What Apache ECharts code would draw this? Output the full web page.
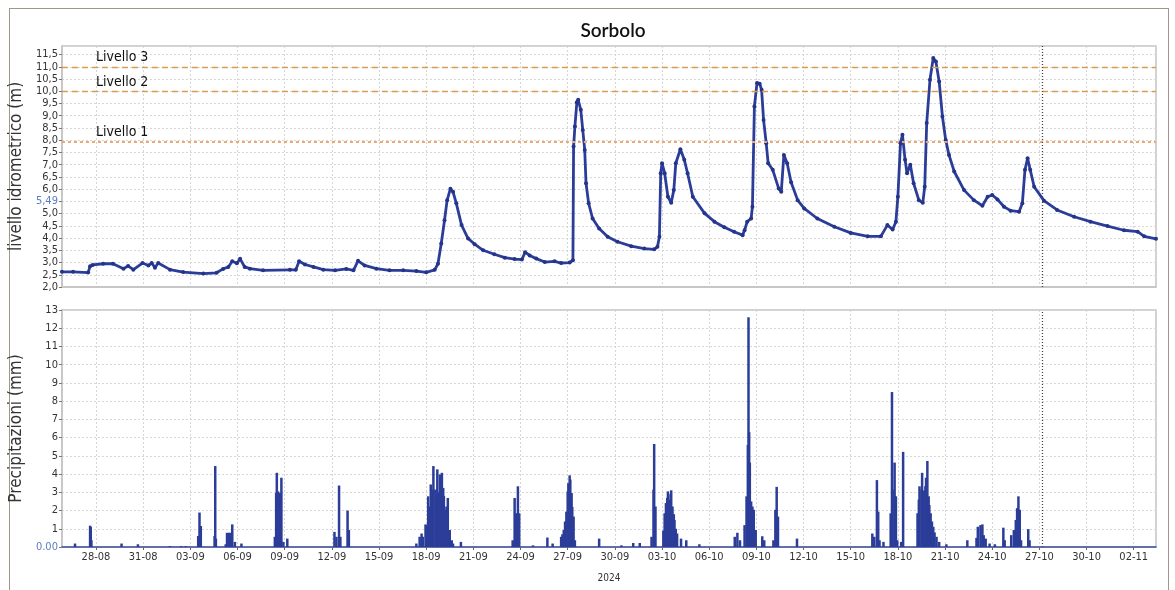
<!DOCTYPE html>
<html>
<head>
<meta charset="utf-8">
<script src="https://cdn.jsdelivr.net/npm/echarts@6/dist/echarts.min.js"></script>
<style>
  html, body { margin: 0; padding: 0; background: #fff; }
  #frame { position: absolute; left: 9px; top: 8px; width: 1160px; height: 700px; border: 1.5px solid #a1968b; border-bottom: none; box-sizing: border-box; }
  #chart { position: absolute; left: 0; top: 0; width: 1175px; height: 590px; }
</style>
</head>
<body>
<div id="frame"></div>
<div id="chart"></div>
<script>
// Hours are counted from 2024-08-28 00:00
const xStart = -52;
const xEnd = 1618;
const tickLabels = ['28-08','31-08','03-09','06-09','09-09','12-09','15-09','18-09','21-09','24-09','27-09','30-09','03-10','06-10','09-10','12-10','15-10','18-10','21-10','24-10','27-10','30-10','02-11'];
const tickHours = tickLabels.map((_, i) => i * 72);
const yearLabel = '2024';
const nowHour = 1445;
const currentLevel = 5.49;

const thresholds = [11.0, 10.0, 7.95];
const thresholdNames = ['Livello 3', 'Livello 2', 'Livello 1'];

// Water level (m)
const levelHours = [-52,-35,-12,-9,-5,11,26,42,49,57,71,80,85,90,95,113,133,164,184,194,202,208,215,220,227,235,255,296,305,310,319,332,347,365,382,393,400,410,428,448,469,489,504,517,522,527,532,536,541,545,550,558,568,578,591,608,624,639,650,655,662,672,685,700,710,723,728,729,731,734,736,740,743,746,748,752,758,768,781,796,817,837,852,857,860,862,864,868,873,878,882,885,892,898,903,911,929,944,959,974,987,990,994,1000,1002,1005,1009,1013,1016,1019,1023,1026,1033,1042,1046,1050,1055,1061,1071,1081,1101,1127,1152,1178,1198,1208,1216,1221,1224,1228,1231,1235,1238,1243,1248,1256,1262,1265,1268,1273,1278,1282,1287,1292,1297,1302,1310,1325,1340,1353,1361,1368,1376,1386,1396,1409,1414,1418,1422,1426,1432,1447,1467,1493,1518,1544,1569,1590,1600,1618];
const levelValues = [2.62,2.62,2.59,2.85,2.90,2.95,2.95,2.75,2.86,2.71,2.98,2.88,2.98,2.79,2.98,2.71,2.61,2.55,2.58,2.74,2.82,3.05,2.97,3.15,2.82,2.75,2.68,2.70,2.70,3.05,2.92,2.82,2.71,2.68,2.74,2.68,3.07,2.88,2.75,2.68,2.68,2.65,2.60,2.70,2.95,3.78,4.73,5.55,6.02,5.89,5.42,4.53,3.98,3.75,3.50,3.34,3.20,3.14,3.12,3.42,3.29,3.16,3.02,3.05,2.98,3.00,3.09,7.74,8.56,9.55,9.65,9.24,8.42,7.60,6.24,5.42,4.80,4.39,4.05,3.85,3.67,3.57,3.54,3.64,4.05,6.65,7.06,6.65,5.69,5.44,5.96,7.06,7.63,7.20,6.65,5.69,5.01,4.67,4.44,4.26,4.12,4.32,4.67,4.80,5.28,9.38,10.34,10.31,10.06,8.83,7.88,7.06,6.79,6.03,5.89,7.40,7.06,6.28,5.55,5.21,4.80,4.46,4.21,4.07,4.07,4.53,4.35,4.67,5.69,7.88,8.22,7.20,6.65,7.00,6.24,5.55,5.44,6.10,8.70,10.47,11.36,11.22,10.40,8.97,8.01,7.40,6.72,5.96,5.55,5.32,5.69,5.76,5.58,5.28,5.12,5.08,5.42,6.79,7.26,6.79,6.10,5.53,5.15,4.87,4.67,4.49,4.32,4.26,4.07,3.97];

// Precipitation (mm)
const rainHours = [-32,-9,-8,-7,39,64,113,130,137,156,158,160,181,182,183,198,200,203,205,208,212,222,273,275,276,278,281,283,286,292,364,367,371,373,384,386,489,494,497,499,503,505,507,509,511,513,515,518,520,521,523,525,526,528,530,531,533,535,537,540,543,545,557,636,639,641,644,646,667,689,697,710,712,714,716,718,720,721,723,724,726,727,729,731,768,802,820,830,848,851,852,854,866,868,870,872,873,875,877,878,880,882,883,885,887,893,901,921,975,979,983,990,993,995,996,997,998,1000,1002,1004,1007,1017,1020,1034,1037,1039,1041,1070,1185,1188,1192,1194,1196,1202,1213,1215,1216,1219,1221,1223,1229,1232,1254,1256,1257,1260,1261,1263,1264,1266,1267,1269,1271,1272,1274,1276,1278,1280,1283,1287,1298,1330,1344,1346,1350,1353,1355,1358,1364,1372,1385,1387,1397,1401,1404,1406,1408,1410,1412,1423,1425];
const rainValues = [0.19,1.17,1.10,0.37,0.19,0.15,0.05,0.05,0.05,0.60,1.89,1.15,0.60,4.44,0.46,0.15,0.78,0.78,0.78,1.24,0.28,0.19,0.56,2.96,4.07,3.05,2.96,3.80,0.28,0.46,0.83,0.56,3.37,0.56,2.00,0.93,0.19,0.56,0.74,0.56,1.24,1.20,2.78,2.22,3.43,3.15,4.44,3.15,2.78,4.26,3.00,3.98,2.96,4.07,3.24,2.80,2.04,2.22,2.69,0.93,0.37,0.19,0.28,0.37,2.69,1.85,3.33,1.85,0.09,0.52,0.19,0.56,0.70,0.93,1.40,1.94,3.05,3.50,3.93,3.70,2.96,2.20,1.67,0.37,0.46,0.09,0.22,0.22,0.56,3.15,5.65,2.22,0.90,1.85,2.41,2.70,3.05,2.59,2.90,3.11,2.22,1.80,1.48,1.00,0.74,0.46,0.37,0.15,0.56,0.78,0.37,1.20,2.78,5.60,12.60,6.30,4.63,2.50,2.22,2.04,0.93,0.59,0.37,0.37,2.04,3.30,1.67,0.46,0.74,0.56,3.67,1.94,0.37,0.28,1.85,8.50,3.15,4.63,2.78,0.37,0.28,5.22,1.85,2.60,3.33,3.15,4.07,2.96,3.10,3.33,3.80,4.72,2.78,2.30,1.85,1.40,1.11,0.80,0.56,0.28,0.15,0.37,0.50,1.11,1.20,1.24,0.65,0.46,0.19,0.15,1.06,0.37,0.65,0.93,1.48,2.13,2.78,2.04,0.37,0.98,0.37];

const FONT = "'Liberation Sans Narrow','DejaVu Sans Condensed','Roboto Condensed',sans-serif";
const gridLine = { show: true, lineStyle: { color: '#d6d6d6', type: [2, 2], width: 1 } };
const blue = '#2b3d98';

function xAxisFor(gi, showLabels) {
  return {
    type: 'value', gridIndex: gi, min: xStart, max: xEnd,
    axisLine: { show: true, onZero: false, lineStyle: { color: gi === 1 ? '#3d4f9f' : '#c4c4c4', width: 1.5 } },
    axisTick: { show: showLabels, customValues: tickHours, length: 3, lineStyle: { color: '#666' } },
    axisLabel: {
      show: showLabels, customValues: tickHours, fontFamily: FONT, fontSize: 11, color: '#333', margin: 5,
      formatter: v => tickLabels[Math.round(v / 72)] || ''
    },
    splitLine: gridLine,
    name: showLabels ? yearLabel : '', nameLocation: 'middle', nameGap: 26,
    nameTextStyle: { fontFamily: FONT, fontSize: 10, color: '#333' }
  };
}

const chart = echarts.init(document.getElementById('chart'), null, { renderer: 'canvas' });
chart.setOption({
  animation: false,
  title: {
    text: 'Sorbolo', left: 608, top: 16, textAlign: 'center',
    textStyle: { fontFamily: 'Lato, "Open Sans", sans-serif', fontSize: 19, fontWeight: 600, color: '#111' }
  },
  grid: [
    { left: 60, top: 46, right: 19, height: 241, show: true, borderColor: '#c4c4c4', borderWidth: 1.5, backgroundColor: '#fff' },
    { left: 60, top: 310, right: 19, height: 237, show: true, borderColor: '#c4c4c4', borderWidth: 1.5, backgroundColor: '#fff' }
  ],
  xAxis: [xAxisFor(0, false), xAxisFor(1, true)],
  yAxis: [
    {
      type: 'value', gridIndex: 0, min: 2, max: 11.85, interval: 0.5,
      name: 'livello idrometrico (m)', nameLocation: 'middle', nameGap: 24,
      nameTextStyle: { fontFamily: FONT, fontSize: 17, color: '#333' },
      axisLine: { show: true, onZero: false, lineStyle: { color: '#c4c4c4', width: 1.5 } },
      axisTick: { show: true, length: 3, lineStyle: { color: '#777' } },
      axisLabel: {
        fontFamily: FONT, fontSize: 11, color: '#333', margin: 4, showMaxLabel: false,
        formatter: v => {
          if (Math.abs(v * 2 - Math.round(v * 2)) > 1e-6) return '';
          if (Math.abs(v - Math.round(currentLevel * 2) / 2) < 1e-6) return '{cur|' + currentLevel.toFixed(2).replace('.', ',') + '}';
          return v.toFixed(1).replace('.', ',');
        },
        rich: { cur: { color: '#5b7ec2', fontFamily: FONT, fontSize: 11 } }
      },
      splitLine: gridLine
    },
    {
      type: 'value', gridIndex: 1, min: 0, max: 13, interval: 1,
      name: 'Precipitazioni (mm)', nameLocation: 'middle', nameGap: 24,
      nameTextStyle: { fontFamily: FONT, fontSize: 17, color: '#333' },
      axisLine: { show: true, onZero: false, lineStyle: { color: '#c4c4c4', width: 1.5 } },
      axisTick: { show: true, length: 3, lineStyle: { color: '#777' } },
      axisLabel: {
        fontFamily: FONT, fontSize: 11, color: '#333', margin: 4,
        formatter: v => v === 0 ? '{z|0.00}' : String(v),
        rich: { z: { color: '#5b7ec2', fontFamily: FONT, fontSize: 11 } }
      },
      splitLine: gridLine
    }
  ],
  series: [
    {
      type: 'line', xAxisIndex: 0, yAxisIndex: 0,
      data: levelHours.map((h, i) => [h, levelValues[i]]),
      lineStyle: { color: blue, width: 2.8 },
      itemStyle: { color: '#23348a' },
      symbol: 'circle', symbolSize: 4, showSymbol: true,
      markLine: {
        silent: true, symbol: 'none',
        data: [
          ...thresholds.map((t, i) => ({
            yAxis: t,
            lineStyle: i === 2
              ? { color: '#eaa874', type: [3, 3], width: 2 }
              : { color: '#d99a52', type: [6, 4], width: 1.3 },
            label: {
              show: true, formatter: thresholdNames[i], position: 'insideStartTop',
              padding: [0, 0, 0, 32], distance: 2,
              fontFamily: FONT, fontSize: 14, color: '#111'
            }
          })),
          { xAxis: nowHour, lineStyle: { color: '#444', type: [1, 2], width: 1.3 }, label: { show: false } }
        ]
      }
    },
    {
      type: 'bar', xAxisIndex: 1, yAxisIndex: 1,
      data: rainHours.map((h, i) => [h, rainValues[i]]),
      barWidth: 2.5, itemStyle: { color: blue },
      markLine: {
        silent: true, symbol: 'none',
        data: [{ xAxis: nowHour }],
        lineStyle: { color: '#444', type: [1, 2], width: 1.3 }, label: { show: false }
      }
    }
  ]
});
</script>
</body>
</html>
